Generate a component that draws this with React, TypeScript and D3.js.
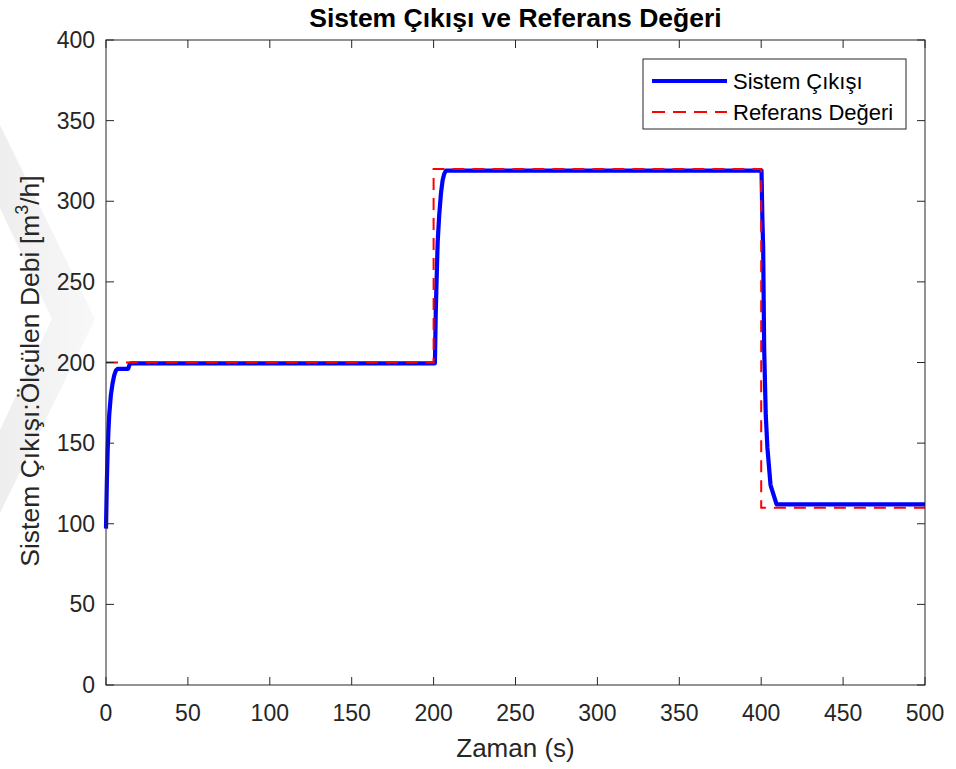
import React from "react";
import * as d3 from "d3";

const W = 956;
const H = 769;

// System output (blue)
const outT = [0, 0.5, 1, 1.5, 2, 3, 4, 5, 6, 7, 13.5, 14.5, 15, 200.8, 201.3, 201.8, 202.5, 203.4, 204.5, 205.5, 206.5, 207.5, 400.2, 400.7, 401.2, 401.8, 402.8, 403.8, 405.7, 409.4, 500];
const outV = [97, 125, 145, 158, 168, 180, 187, 192, 195, 196, 196, 199, 199.5, 199.5, 230, 250, 275, 291, 305, 313, 317, 319, 319, 290, 271, 209, 167, 147, 124, 112, 112];

// Reference (red dashed)
const refT = [0, 200, 200, 400, 400, 500];
const refV = [200, 200, 320, 320, 110, 110];

const xTicks = [0, 50, 100, 150, 200, 250, 300, 350, 400, 450, 500];
const yTicks = [0, 50, 100, 150, 200, 250, 300, 350, 400];

const title = "Sistem Çıkışı ve Referans Değeri";
const xLabel = "Zaman (s)";
const legendNames = ["Sistem Çıkışı", "Referans Değeri"];

export default function App() {
  const L = 106, R = 925, T = 40, B = 685;
  const x = d3.scaleLinear().domain([0, 500]).range([L, R]);
  const y = d3.scaleLinear().domain([0, 400]).range([B, T]);
  const lineGen = d3
    .line<[number, number]>()
    .x((d) => x(d[0]))
    .y((d) => y(d[1]));
  const outPath = lineGen(outT.map((t, i) => [t, outV[i]]) as [number, number][]) || "";
  const refPath = lineGen(refT.map((t, i) => [t, refV[i]]) as [number, number][]) || "";
  const axisColor = "#262626";
  const font = "'Liberation Sans', Arial, Helvetica, sans-serif";
  const tickLen = 8;

  return (
    <svg
      width={W}
      height={H}
      style={{ position: "absolute", left: 0, top: 0, background: "#fff" }}
      fontFamily={font}
    >
      <defs>
        <linearGradient id="wm" x1="0" x2="1" y1="0" y2="0">
          <stop offset="0" stopColor="#eeeeee" />
          <stop offset="1" stopColor="#f8f8f8" />
        </linearGradient>
      </defs>
      <rect x={0} y={0} width={W} height={H} fill="#fff" />
      {/* faint watermark chevron */}
      <polygon points="0,125 95,319 0,513 0,430 52,319 0,208" fill="url(#wm)" />
      <rect x={L} y={T} width={R - L} height={B - T} fill="#fff" />

      {/* data */}
      <path d={outPath} fill="none" stroke="#0000ff" strokeWidth={4.2} strokeLinejoin="round" />
      <path d={refPath} fill="none" stroke="#ff0000" strokeWidth={2} strokeDasharray="12 8" />

      {/* axes box */}
      <rect x={L} y={T} width={R - L} height={B - T} fill="none" stroke={axisColor} strokeWidth={1} />
      {xTicks.map((t) => (
        <g key={"x" + t}>
          <line x1={x(t)} x2={x(t)} y1={B} y2={B - tickLen} stroke={axisColor} />
          <line x1={x(t)} x2={x(t)} y1={T} y2={T + tickLen} stroke={axisColor} />
          <text x={x(t)} y={721} textAnchor="middle" fontSize={23} fill={axisColor}>
            {t}
          </text>
        </g>
      ))}
      {yTicks.map((t) => (
        <g key={"y" + t}>
          <line x1={L} x2={L + tickLen} y1={y(t)} y2={y(t)} stroke={axisColor} />
          <line x1={R} x2={R - tickLen} y1={y(t)} y2={y(t)} stroke={axisColor} />
          <text x={95} y={y(t)} dy="0.35em" textAnchor="end" fontSize={23} fill={axisColor}>
            {t}
          </text>
        </g>
      ))}

      {/* title */}
      <text x={(L + R) / 2} y={27} textAnchor="middle" fontSize={26.5} fontWeight="bold" fill="#000">
        {title}
      </text>
      {/* x label */}
      <text x={(L + R) / 2} y={757} textAnchor="middle" fontSize={26} fill={axisColor}>
        {xLabel}
      </text>
      {/* y label */}
      <text
        transform={`translate(39, 371) rotate(-90)`}
        textAnchor="middle"
        fontSize={26.5}
        fill={axisColor}
      >
        <tspan>Sistem Çıkışı:Ölçülen Debi [m</tspan>
        <tspan dy={-11} fontSize={18}>3</tspan>
        <tspan dy={11}>/h]</tspan>
      </text>

      {/* legend */}
      <rect x={643} y={59} width={263} height={70} fill="#fff" stroke={axisColor} strokeWidth={1} />
      <line x1={652} x2={727} y1={81} y2={81} stroke="#0000ff" strokeWidth={4.2} />
      <line x1={652} x2={727} y1={112} y2={112} stroke="#ff0000" strokeWidth={2} strokeDasharray="13 8" />
      <text x={733} y={81} dy="0.35em" fontSize={22} fill="#000">
        {legendNames[0]}
      </text>
      <text x={733} y={112} dy="0.35em" fontSize={22} fill="#000">
        {legendNames[1]}
      </text>
    </svg>
  );
}
